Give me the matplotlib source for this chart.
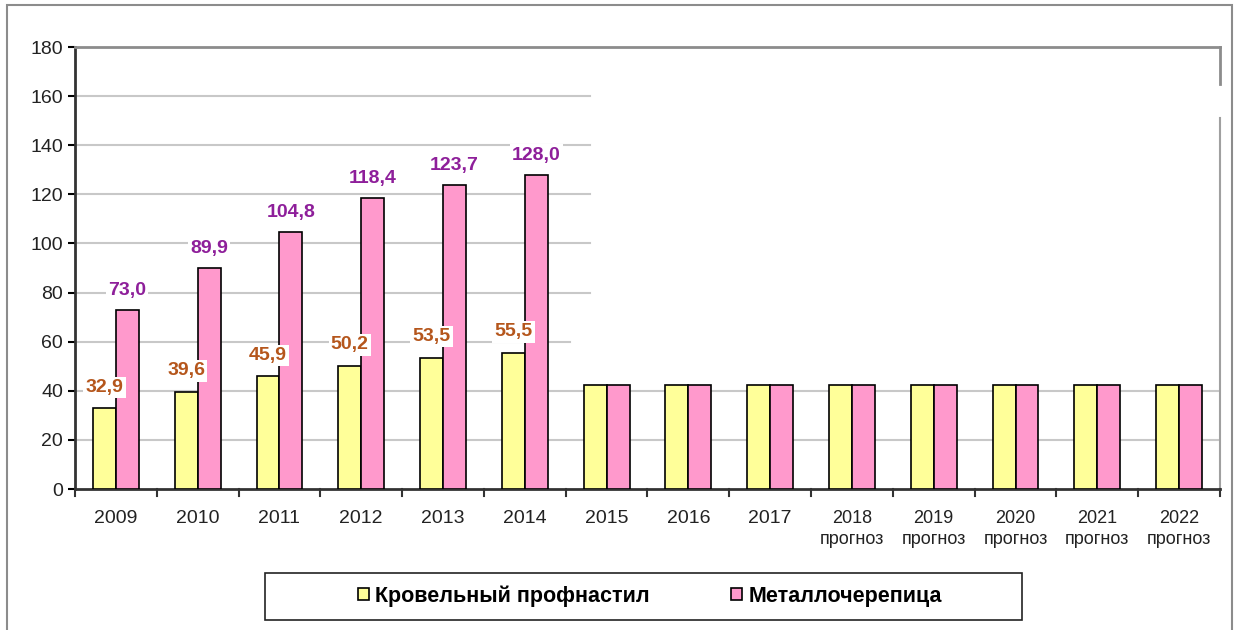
import numpy as np
import matplotlib.pyplot as plt
from matplotlib.patches import Rectangle

plt.rcParams['font.family'] = ['Liberation Sans', 'DejaVu Sans']

# данные
years = ['2009', '2010', '2011', '2012', '2013', '2014', '2015', '2016', '2017',
         '2018\nпрогноз', '2019\nпрогноз', '2020\nпрогноз', '2021\nпрогноз', '2022\nпрогноз']
profnastil = [32.9, 39.6, 45.9, 50.2, 53.5, 55.5, 42.5, 42.5, 42.5, 42.5, 42.5, 42.5, 42.5, 42.5]
metallocherepica = [73.0, 89.9, 104.8, 118.4, 123.7, 128.0, 42.5, 42.5, 42.5, 42.5, 42.5, 42.5, 42.5, 42.5]
labeled = 6  # подписи только у фактических лет
series_names = ['Кровельный профнастил', 'Металлочерепица']

fig = plt.figure(figsize=(12.48, 6.3), dpi=100)
ax = fig.add_axes([75/1248, 1 - 489/630, 1145/1248, 442/630])

x = np.arange(len(years))
w = 0.28
b1 = ax.bar(x - w/2, profnastil, w, color='#FFFF99', edgecolor='black', linewidth=1.2,
            label=series_names[0], zorder=3)
b2 = ax.bar(x + w/2, metallocherepica, w, color='#FF99CC', edgecolor='black', linewidth=1.2,
            label=series_names[1], zorder=3)

# сетка (верхняя часть обрезана в оригинале)
for v in [20, 40]:
    ax.axhline(v, color='#c8c8c8', lw=1.5, zorder=1)
ax.plot([-0.5, 5.55], [60, 60], color='#c8c8c8', lw=1.5, zorder=1)
for v in [80, 100, 120, 140, 160]:
    ax.plot([-0.5, 5.8], [v, v], color='#c8c8c8', lw=1.5, zorder=1)

# подписи значений
for i in range(labeled):
    ax.text(x[i] - w/2, profnastil[i] + 5, f'{profnastil[i]:.1f}'.replace('.', ','),
            ha='center', va='bottom', fontsize=14, fontweight='bold', color='#B5561C',
            bbox=dict(facecolor='white', edgecolor='none', pad=1.5), zorder=5)
    ax.text(x[i] + w/2, metallocherepica[i] + 4.5, f'{metallocherepica[i]:.1f}'.replace('.', ','),
            ha='center', va='bottom', fontsize=14, fontweight='bold', color='#8E1F9A',
            bbox=dict(facecolor='white', edgecolor='none', pad=1.5), zorder=5)

ax.set_xlim(-0.5, len(years) - 0.5)
ax.set_ylim(0, 180)
ax.set_yticks(range(0, 181, 20))
ax.set_xticks(x)
ax.set_xticklabels(years, fontsize=14, color='#222222', linespacing=1.35)
ax.tick_params(axis='y', labelsize=14, labelcolor='#222222', length=5, width=1.5, direction='out')
ax.tick_params(axis='x', length=0, pad=15)
# засечки между категориями
for xb in np.arange(-0.5, len(years), 1.0):
    ax.plot([xb, xb], [0, -3], color='#333333', lw=1.5, clip_on=False, zorder=4)

for lbl in ax.get_xticklabels()[9:]:
    lbl.set_fontsize(13)

ax.spines['left'].set_color('#333333')
ax.spines['left'].set_linewidth(2)
ax.spines['bottom'].set_color('#333333')
ax.spines['bottom'].set_linewidth(2)
ax.spines['top'].set_color('#8c8c8c')
ax.spines['top'].set_linewidth(2)
ax.spines['right'].set_visible(False)
ax.plot([13.5, 13.5], [180, 165], color='#8c8c8c', lw=2, clip_on=False)
ax.plot([13.5, 13.5], [151, 0], color='#a0a0a0', lw=1.5, clip_on=False)

# внешняя рамка
fig.add_artist(Rectangle((7/1248, -0.01), 1225/1248, 1 - 5/630 + 0.01, transform=fig.transFigure,
                         fill=False, edgecolor='#8c8c8c', lw=1.5))

# легенда
fig.add_artist(Rectangle((265/1248, 10/630), 757/1248, 47/630, transform=fig.transFigure,
                         fill=False, edgecolor='#222222', lw=1.2))
leg = fig.legend(handles=[b1, b2], loc='center', bbox_to_anchor=(650/1248, 34/630),
                 ncol=2, frameon=False, prop={'size': 15.5, 'weight': 'bold'},
                 handlelength=0.5, handleheight=0.5, handletextpad=0.3, columnspacing=3.8)

fig.savefig('out.png', dpi=100)
